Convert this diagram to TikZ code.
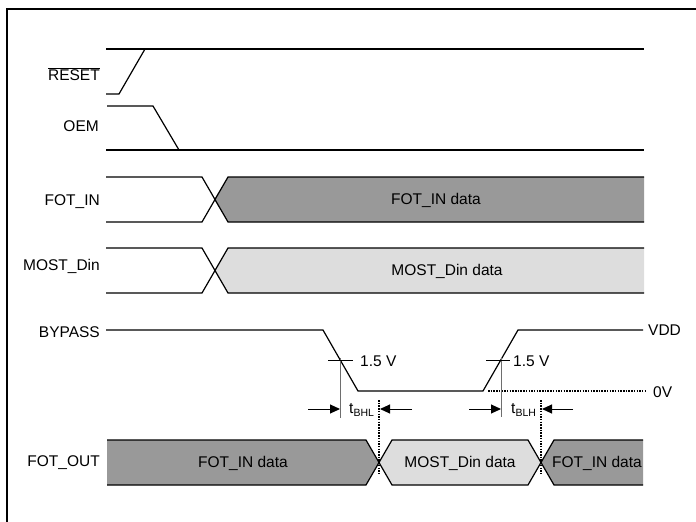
\documentclass[tikz,border=0pt]{standalone}
\usepackage{fontspec}
\setmainfont{Liberation Sans}
\usetikzlibrary{arrows.meta}
\definecolor{darkfill}{RGB}{153,153,153}
\definecolor{lightfill}{RGB}{221,221,221}
\definecolor{guide}{RGB}{110,110,110}
\begin{document}
\begin{tikzpicture}[x=1pt,y=-1pt,
  sig/.style={line width=1.2pt,line join=miter},
  lab/.style={font=\fontsize{15.5}{18}\selectfont,inner sep=0pt},
  dots/.style={line width=2.3pt,dash pattern=on 1.5pt off 1.2pt},
  tarrow/.style={line width=1pt,-{Triangle[length=10pt,width=9pt]}},
  sub/.style={font=\fontsize{10}{10}\selectfont}]
\useasboundingbox (0,0) rectangle (696,522);
\draw[line width=2.2pt] (7,522) -- (7,9) -- (696,9);

% labels
\node[lab,anchor=east] (lreset) at (100,74) {$\overline{\mbox{RESET}}$};
\node[lab,anchor=east] (loem) at (99,126) {OEM};
\node[lab,anchor=east] (lfotin) at (100,202) {FOT\_IN};
\node[lab,anchor=east] (lmost) at (100,266) {MOST\_Din};
\node[lab,anchor=east] (lbyp) at (100,332) {BYPASS};
\node[lab,anchor=east] (lfotout) at (100,463) {FOT\_OUT};

% RESET
\draw[sig] (106,49) -- (644,49);
\draw[sig] (106,94) -- (119,94) -- (145,49);
% OEM
\draw[sig] (107,106) -- (153,106) -- (179,150);
\draw[sig] (106,150) -- (644,150);

% FOT_IN bus
\fill[darkfill] (644,177) -- (228,177) -- (214,199.5) -- (228,222) -- (644,222) -- cycle;
\draw[sig] (106,177) -- (202,177) -- (228,222) -- (644,222);
\draw[sig] (106,222) -- (202,222) -- (228,177) -- (644,177);
\node[lab] (dfotin) at (436,200) {FOT\_IN data};

% MOST_Din bus
\fill[lightfill] (644,248) -- (228,248) -- (214,270.5) -- (228,293) -- (644,293) -- cycle;
\draw[sig] (106,248) -- (202,248) -- (228,293) -- (644,293);
\draw[sig] (106,293) -- (202,293) -- (228,248) -- (644,248);
\node[lab] (dmost) at (447,271) {MOST\_Din data};

% BYPASS
\draw[sig] (106,330) -- (323,330) -- (358,391) -- (483,391) -- (518,330) -- (643,330);
\node[lab,anchor=west] (lvdd) at (648,330) {VDD};
\draw[dots] (488,391) -- (645,391);
\node[lab,anchor=west] (l0v) at (653,392) {0V};

% 1.5 V markers
\draw[guide,line width=0.8pt] (340,358) -- (340,418);
\draw[line width=0.9pt] (328,360) -- (353,360);
\node[lab,anchor=west] (l15a) at (360,361) {1.5 V};
\draw[guide,line width=0.8pt] (501,358) -- (501,417);
\draw[line width=0.9pt] (486,360) -- (510,360);
\node[lab,anchor=west] (l15b) at (513,361) {1.5 V};

% timing arrows
\coordinate (a1s) at (308,409); \coordinate (a1e) at (340,409);
\coordinate (a2s) at (412,409); \coordinate (a2e) at (380,409);
\coordinate (b1s) at (469,409); \coordinate (b1e) at (501,409);
\coordinate (b2s) at (573,409); \coordinate (b2e) at (542,409);
\draw[tarrow] (a1s) -- (a1e);
\draw[tarrow] (a2s) -- (a2e);
\draw[tarrow] (b1s) -- (b1e);
\draw[tarrow] (b2s) -- (b2e);
\node[lab,anchor=west] (tbhl) at (349,410) {t\raisebox{-0.35ex}{\fontsize{10.5}{10}\selectfont BHL}};
\node[lab,anchor=west] (tblh) at (511,410) {t\raisebox{-0.35ex}{\fontsize{10.5}{10}\selectfont BLH}};

% FOT_OUT bus
\fill[darkfill] (107,440) -- (366,440) -- (379,462.5) -- (366,485) -- (107,485) -- cycle;
\fill[lightfill] (392,440) -- (528,440) -- (541,462.5) -- (528,485) -- (392,485) -- (379,462.5) -- cycle;
\fill[darkfill] (643,440) -- (554,440) -- (541,462.5) -- (554,485) -- (643,485) -- cycle;
\draw[sig] (107,440) -- (366,440) -- (392,485) -- (528,485) -- (554,440) -- (643,440);
\draw[sig] (107,485) -- (366,485) -- (392,440) -- (528,440) -- (554,485) -- (643,485);
\node[lab] (d1) at (243,463) {FOT\_IN data};
\node[lab] (d2) at (460,463) {MOST\_Din data};
\node[lab] (d3) at (597,463) {FOT\_IN data};

% dotted reference lines
\draw[dots] (379,400) -- (379,474);
\draw[dots] (541,400) -- (541,473);
\end{tikzpicture}
\end{document}
